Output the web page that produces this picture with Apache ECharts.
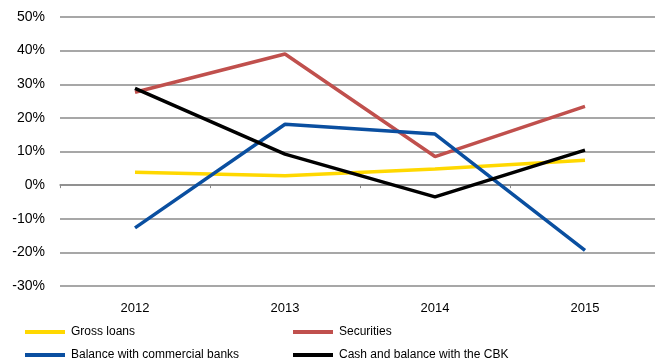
<!DOCTYPE html>
<html>
<head>
<meta charset="utf-8">
<script src="https://cdn.jsdelivr.net/npm/echarts@6/dist/echarts.min.js"></script>
<style>html,body{margin:0;padding:0;background:#fff;overflow:hidden}#c{width:666px;height:363px}</style>
</head>
<body>
<div id="c"></div>
<script>
var categories = ['2012', '2013', '2014', '2015'];
var grossLoans = [3.8, 2.8, 4.8, 7.4];
var securities = [27.6, 39.0, 8.5, 23.4];
var balanceCommercial = [-12.7, 18.1, 15.2, -19.4];
var cashCBK = [28.8, 9.2, -3.5, 10.4];
var seriesNames = ['Gross loans', 'Securities', 'Balance with commercial banks', 'Cash and balance with the CBK'];
var colors = ['#FFD800', '#C0504D', '#0A4FA0', '#000000'];

var chart = echarts.init(document.getElementById('c'));
var font = 'Liberation Sans, Arial, sans-serif';
function legendAt(name, left, top) {
  return {
    data: [name], left: left, top: top, orient: 'horizontal',
    icon: 'rect', itemWidth: 40, itemHeight: 4, padding: 0,
    selectedMode: false,
    textStyle: { fontFamily: font, fontSize: 12, color: '#000', padding: [0, 0, 0, 1] }
  };
}
var datas = [grossLoans, securities, balanceCommercial, cashCBK];
chart.setOption({
  animation: false,
  color: colors,
  grid: { left: 60, top: 17, width: 600, height: 269 },
  legend: [
    legendAt(seriesNames[0], 25, 326),
    legendAt(seriesNames[1], 293, 326),
    legendAt(seriesNames[2], 25, 349),
    legendAt(seriesNames[3], 293, 349)
  ],
  xAxis: [
    {
      type: 'category', data: categories, boundaryGap: true,
      axisLine: { onZero: true, lineStyle: { color: '#8a8a8a', width: 1.5 } },
      axisTick: { show: true, length: 3, lineStyle: { color: '#8a8a8a', width: 1 } },
      axisLabel: { show: false }
    },
    {
      type: 'category', data: categories, boundaryGap: true, position: 'bottom',
      axisLine: { show: false, onZero: false },
      axisTick: { show: false },
      axisLabel: { margin: 16, fontFamily: font, fontSize: 13, color: '#000' }
    }
  ],
  yAxis: {
    type: 'value', min: -30, max: 50, interval: 10,
    axisLine: { show: false }, axisTick: { show: false },
    axisLabel: { formatter: '{value}%', margin: 15, fontFamily: font, fontSize: 14, color: '#000' },
    splitLine: { lineStyle: { color: '#8a8a8a', width: 1.5 } }
  },
  series: seriesNames.map(function (n, i) {
    return {
      name: n, type: 'line', data: datas[i], symbol: 'none',
      lineStyle: { width: 3.5, color: colors[i] }, z: 3 + (i === 3 ? 1 : 0)
    };
  })
});
</script>
</body>
</html>
